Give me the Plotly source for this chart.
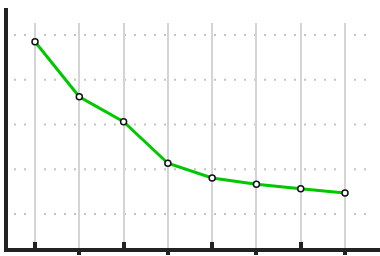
import plotly.graph_objects as go

categories = [1, 2, 3, 4, 5, 6, 7, 8]
values = [97, 72.4, 61.3, 42.7, 36.1, 33.3, 31.3, 29.4]
grid_y = [20, 40, 60, 80, 100]
ticks_in = [1, 3, 5, 7]
ticks_out = [2, 4, 6, 8]

AXIS = "#222222"
xr = [0.39, 8.79]
yr = [4.8, 105.4]
PW, PH = 372, 225

fig = go.Figure()
fig.add_trace(go.Scatter(
    x=categories, y=values, mode="lines+markers",
    line=dict(color="#00c800", width=3),
    marker=dict(size=6, color="white", line=dict(color="#111111", width=1.5)),
    showlegend=False, hoverinfo="skip", cliponaxis=False,
))

shapes = [dict(type="line", xref="paper", yref="y", x0=6/PW, x1=360/PW, y0=g, y1=g,
               line=dict(color="#c4c4c4", width=2, dash="2px,8px"), layer="below")
          for g in grid_y]
shapes.append(dict(type="line", xref="paper", yref="paper",
                   x0=-2/PW, x1=-2/PW, y0=-4/PH, y1=1 + 15/PH,
                   line=dict(color=AXIS, width=4), layer="above"))

fig.update_layout(
    width=380, height=256,
    margin=dict(l=8, r=0, t=23, b=8),
    paper_bgcolor="white", plot_bgcolor="white",
    xaxis=dict(range=xr, tickvals=ticks_in, ticks="inside", ticklen=6, tickwidth=4,
               tickcolor=AXIS, showticklabels=False, showline=True, linewidth=4,
               linecolor=AXIS, showgrid=True, gridcolor="#d4d4d4", gridwidth=1.5,
               zeroline=False),
    xaxis2=dict(range=xr, overlaying="x", anchor="y", side="bottom",
                tickvals=ticks_out, ticks="outside", ticklen=6, tickwidth=4,
                tickcolor=AXIS, showticklabels=False, showline=False,
                showgrid=True, gridcolor="#d4d4d4", gridwidth=1.5, zeroline=False),
    yaxis=dict(range=yr, tickvals=grid_y, showticklabels=False, ticks="",
               showline=False, showgrid=False, zeroline=False),
    shapes=shapes,
)
fig.add_trace(go.Scatter(x=[None], y=[None], xaxis="x2", showlegend=False))

fig.write_html("out.html", config={"displayModeBar": False},
               post_script="document.body.style.margin='0';document.body.style.overflow='hidden';")
